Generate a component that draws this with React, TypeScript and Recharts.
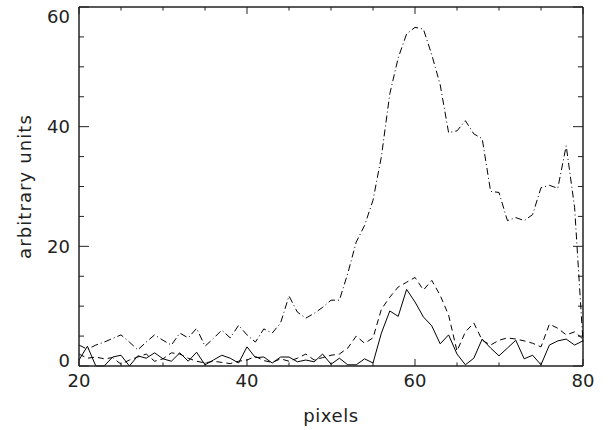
import React from 'react';
import { LineChart, Line, XAxis, YAxis, ReferenceLine } from 'recharts';

// detector pixel index (x axis)
const pixels = [
  20, 21, 22, 23, 24, 25, 26, 27, 28, 29, 30, 31, 32, 33, 34, 35, 36, 37, 38, 39,
  40, 41, 42, 43, 44, 45, 46, 47, 48, 49, 50, 51, 52, 53, 54, 55, 56, 57, 58, 59,
  60, 61, 62, 63, 64, 65, 66, 67, 68, 69, 70, 71, 72, 73, 74, 75, 76, 77, 78, 79, 80,
];

const solid = [
  1.0, 3.3, 0, 0, 1.5, 1.8, 0, 1.7, 1.3, 2.2,
  1.2, 0.8, 2.2, 0.8, 2.3, 0.2, 1.0, 1.8, 1.3, 0.5,
  3.2, 1.4, 1.5, 0.5, 1.5, 1.5, 0.7, 1.0, 0.7, 2.0,
  0.3, 1.3, 0.2, 0.2, 1.2, 0.5, 5.5, 9.2, 8.3, 12.8,
  10.7, 8.2, 6.7, 3.7, 5.2, 2.0, 0.2, 1.3, 4.5, 3.0,
  1.7, 3.0, 4.3, 1.2, 1.8, 0.2, 3.5, 4.2, 4.5, 3.5, 4.2,
];

const dashed = [
  2.0, 1.3, 1.5, 1.2, 1.4, 0.3, 1.0, 1.5, 2.0, 0.8,
  1.2, 2.2, 2.0, 1.3, 0.8, 0.5, 0.8, 0.6, 0.4, 0.8,
  1.0, 1.6, 0.9, 0.6, 1.2, 0.8, 1.3, 2.0, 1.0, 1.4,
  1.8, 2.0, 3.0, 5.0, 3.8, 4.7, 9.5, 11.5, 13.2, 14.0,
  14.8, 12.7, 14.3, 11.8, 8.5, 2.5, 5.7, 7.2, 4.3, 3.5,
  4.3, 4.7, 4.5, 4.2, 3.8, 3.2, 7.0, 6.3, 5.2, 5.7, 4.5,
];

const dotDash = [
  3.5, 2.8, 3.5, 4.0, 4.6, 5.2, 4.0, 2.7, 4.0, 5.2,
  4.3, 3.5, 5.5, 4.7, 6.3, 3.3, 4.6, 6.0, 4.7, 6.8,
  5.2, 4.0, 6.2, 5.5, 7.2, 11.7, 9.0, 8.0, 8.8, 9.8,
  11.0, 11.0, 15.5, 20.7, 23.5, 27.7, 35.0, 45.5, 51.5, 55.5,
  56.6, 56.3, 52.0, 47.0, 39.0, 39.3, 41.0, 38.8, 38.0, 29.2,
  29.0, 24.3, 24.8, 24.3, 25.3, 29.8, 30.2, 29.7, 36.8, 26.5, 4.0,
];

const xTicks = [20, 25, 30, 35, 40, 45, 50, 55, 60, 65, 70, 75, 80];
const yTicks = [0, 5, 10, 15, 20, 25, 30, 35, 40, 45, 50, 55, 60];
const xMajor = [20, 40, 60, 80];
const yMajor = [0, 20, 40, 60];

const data = pixels.map((p, i) => ({
  p,
  solid: solid[i],
  dashed: dashed[i],
  dotDash: dotDash[i],
}));

const INK = '#222';
const FONT = '"DejaVu Sans", sans-serif';
const X0 = 20, X1 = 80, Y0 = 0, Y1 = 60;
// inward tick lengths in data units (about 7/3.5 px vertical, 10/5 px horizontal)
const XT_MAJ = 1.17, XT_MIN = 0.6;
const YT_MAJ = 1.19, YT_MIN = 0.6;

const XLabel = ({ x, y, payload }: any) =>
  xMajor.includes(payload.value) ? (
    <text x={x} y={y + 21} textAnchor="middle" fontFamily={FONT} fontSize={18} fill={INK} stroke="none">
      {payload.value}
    </text>
  ) : <g />;

const YLabel = ({ x, y, payload }: any) => {
  if (!yMajor.includes(payload.value)) return <g />;
  const ly = Math.min(Math.max(y, 16), 360);
  return (
    <text x={x - 9} y={ly + 6.5} textAnchor="end" fontFamily={FONT} fontSize={18} fill={INK} stroke="none">
      {payload.value}
    </text>
  );
};

export default function App() {
  const tickStyle = { stroke: INK, strokeWidth: 1, ifOverflow: 'visible' as const };
  return (
    <div style={{ position: 'absolute', left: 0, top: 0, width: 616, height: 430, background: '#fff' }}>
      <LineChart width={616} height={430} data={data} margin={{ top: 7, right: 33, left: 0, bottom: 0 }}>
        <XAxis
          dataKey="p" type="number" domain={[X0, X1]} ticks={xTicks} interval={0}
          tickSize={0} tickMargin={0} height={64} tickLine={false}
          axisLine={{ stroke: INK, strokeWidth: 1.5 }}
          tick={XLabel}
          label={{ value: 'pixels', position: 'center', dy: 18, style: { fontFamily: FONT, fontSize: 18, fill: INK, letterSpacing: 0.6 } }}
        />
        <YAxis
          type="number" domain={[Y0, Y1]} ticks={yTicks} interval={0}
          tickSize={0} tickMargin={0} width={79} tickLine={false}
          axisLine={{ stroke: INK, strokeWidth: 1.5 }}
          tick={YLabel}
          label={{ value: 'arbitrary units', angle: -90, position: 'center', dx: -15, style: { fontFamily: FONT, fontSize: 18, fill: INK, letterSpacing: 1.1, textAnchor: 'middle' } }}
        />

        {/* box: top and right edges */}
        <ReferenceLine y={Y1} stroke={INK} strokeWidth={1.5} ifOverflow="visible" />
        <ReferenceLine x={X1} stroke={INK} strokeWidth={1.5} ifOverflow="visible" />

        {/* inward ticks on all four sides */}
        {xTicks.map((t) => {
          const len = xMajor.includes(t) ? XT_MAJ : XT_MIN;
          return [
            <ReferenceLine key={`b${t}`} segment={[{ x: t, y: Y0 }, { x: t, y: Y0 + len }]} {...tickStyle} />,
            <ReferenceLine key={`t${t}`} segment={[{ x: t, y: Y1 }, { x: t, y: Y1 - len }]} {...tickStyle} />,
          ];
        })}
        {yTicks.map((t) => {
          const len = yMajor.includes(t) ? YT_MAJ : YT_MIN;
          return [
            <ReferenceLine key={`l${t}`} segment={[{ x: X0, y: t }, { x: X0 + len, y: t }]} {...tickStyle} />,
            <ReferenceLine key={`r${t}`} segment={[{ x: X1, y: t }, { x: X1 - len, y: t }]} {...tickStyle} />,
          ];
        })}

        <Line type="linear" dataKey="solid" stroke="#000" strokeWidth={1} dot={false} isAnimationActive={false} />
        <Line type="linear" dataKey="dashed" stroke="#000" strokeWidth={1} strokeDasharray="6 4" dot={false} isAnimationActive={false} />
        <Line type="linear" dataKey="dotDash" stroke="#000" strokeWidth={1} strokeDasharray="7 3 1 3" dot={false} isAnimationActive={false} />
      </LineChart>
    </div>
  );
}
